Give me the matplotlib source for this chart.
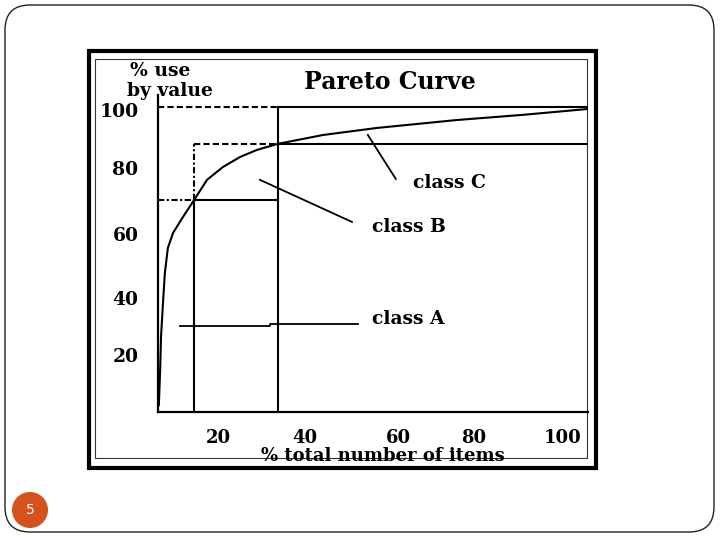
import matplotlib
matplotlib.use("Agg")
import matplotlib.pyplot as plt
from matplotlib.patches import FancyBboxPatch, Rectangle, Circle

# ---- data ----
curve_x = [0.2, 0.5, 0.7, 1.2, 1.6, 2.3, 3.5, 5.8, 8.4, 11.4, 15.1, 19.1, 23.0, 27.9, 38.4, 50.9, 69.5, 84.9, 99.8]
curve_y = [2.3, 13.8, 24.6, 36.7, 45.6, 53.8, 58.7, 63.9, 69.5, 76.1, 80.3, 83.6, 85.9, 87.9, 90.8, 93.1, 95.7, 97.4, 99.3]

class_a_cut = 8.4      # % items where class A ends
class_b_cut = 27.9     # % items where class B ends
level_a = 69.5         # % value at end of class A
level_b = 87.9         # % value at end of class B
level_top = 100.0

xtick_pos = [14.0, 34.2, 55.8, 73.3, 94.2]
xtick_labels = ["20", "40", "60", "80", "100"]
ytick_pos = [18.7, 37.4, 58.4, 80.0, 99.0]
ytick_labels = ["20", "40", "60", "80", "100"]

class_labels = ["class A", "class B", "class C"]
label_xy = [(49.8, 30.5), (49.8, 60.7), (59.3, 75.1)]
leader_x = [[5.1, 26.0, 26.0, 46.5], [23.7, 45.1], [48.8, 55.3]]
leader_y = [[28.2, 28.2, 28.9, 28.9], [76.1, 62.3], [90.8, 76.4]]

title = "Pareto Curve"
xlabel = "% total number of items"
ylabel_lines = ["% use", "by value"]
page_number = "5"

W, H = 720, 540
fig = plt.figure(figsize=(7.2, 5.4), dpi=100)
fig.patch.set_facecolor("white")

# background layer in pixel coordinates
bg = fig.add_axes([0, 0, 1, 1])
bg.set_xlim(0, W)
bg.set_ylim(H, 0)
bg.axis("off")
bg.add_patch(FancyBboxPatch((5, 5), 709, 527, boxstyle="round,pad=0,rounding_size=25",
                            fill=False, edgecolor="#222222", linewidth=1.0))
bg.add_patch(Rectangle((89, 51), 507, 417, fill=False, edgecolor="black", linewidth=3.0))
bg.add_patch(Rectangle((95, 59), 492, 399, fill=False, edgecolor="#333333", linewidth=0.8))
bg.add_patch(Circle((30, 510), 18, facecolor="#D4521E", edgecolor="none"))
bg.text(30, 510, page_number, color="white", fontsize=10, ha="center", va="center",
        family="DejaVu Sans")

serif = "DejaVu Serif"
fs = 13.5
bg.text(390, 82, title, family=serif, fontsize=17, fontweight="bold", ha="center", va="center")
bg.text(383, 456, xlabel, family=serif, fontsize=13, fontweight="bold", ha="center", va="center")
bg.text(130, 71, ylabel_lines[0], family=serif, fontsize=fs, fontweight="bold", ha="left", va="center")
bg.text(127, 91, ylabel_lines[1], family=serif, fontsize=fs, fontweight="bold", ha="left", va="center")

# chart axes
ax = fig.add_axes([158 / W, 1 - 412 / H, 430 / W, 317 / H])
ax.set_xlim(0, 100)
ax.set_ylim(0, 103.9)
for s in ["top", "right"]:
    ax.spines[s].set_visible(False)
for s in ["left", "bottom"]:
    ax.spines[s].set_linewidth(1.6)
    ax.spines[s].set_color("black")
ax.patch.set_alpha(0)

ax.set_xticks(xtick_pos)
ax.set_xticklabels(xtick_labels, family=serif, fontsize=13, fontweight="bold")
ax.set_yticks(ytick_pos)
ax.set_yticklabels(ytick_labels, family=serif, fontsize=fs, fontweight="bold")
ax.tick_params(axis="x", length=0, pad=12)
ax.tick_params(axis="y", length=0, pad=14)

lw = 1.5
dash = (0, (3, 1.5))
dashdot = (0, (3, 1.2, 1, 1.2))
# top line
ax.plot([0, class_b_cut], [level_top, level_top], color="black", lw=lw, linestyle=dash)
ax.plot([class_b_cut, 100], [level_top, level_top], color="black", lw=lw)
# B level
ax.plot([class_a_cut, class_b_cut], [level_b, level_b], color="black", lw=lw, linestyle=dash)
ax.plot([class_b_cut, 100], [level_b, level_b], color="black", lw=lw)
ax.plot([class_a_cut, class_a_cut], [level_a, level_b], color="black", lw=lw, linestyle=dashdot)
# A level
ax.plot([0, class_a_cut], [level_a, level_a], color="black", lw=lw, linestyle=dashdot)
ax.plot([class_a_cut, class_b_cut], [level_a, level_a], color="black", lw=lw)
# verticals
ax.plot([class_a_cut, class_a_cut], [0, level_a], color="black", lw=lw)
ax.plot([class_b_cut, class_b_cut], [0, level_top], color="black", lw=lw)
# curve
ax.plot(curve_x, curve_y, color="black", lw=lw, solid_joinstyle="round")

# class labels and leaders
for lab, (tx, ty), lx, ly in zip(class_labels, label_xy, leader_x, leader_y):
    ax.plot(lx, ly, color="black", lw=1.3)
    ax.text(tx, ty, lab, family=serif, fontsize=fs, fontweight="bold", ha="left", va="center")

fig.savefig("out.png", dpi=100)
